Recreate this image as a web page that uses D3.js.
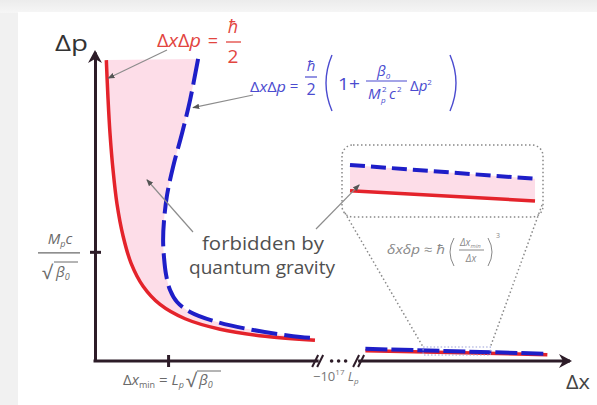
<!DOCTYPE html>
<html>
<head>
<meta charset="utf-8">
<script src="https://cdn.jsdelivr.net/npm/d3@7"></script>
<style>
  body { margin: 0; background: #f1f1f1; }
  text { font-family: "Open Sans", sans-serif; }
</style>
</head>
<body>
<div class="chart_container"></div>
<script>
// Δx in units of Δx_min, Δp in units of M_p c / √β0
const xTicks = [1];
const yTicks = [1];
const xBreak = [3.04, 3.6];

const redNear = [[0.155, 2.756], [0.178, 2.406], [0.205, 2.088], [0.247, 1.749], [0.301, 1.438],
  [0.384, 1.145], [0.493, 0.897], [0.658, 0.685], [0.89, 0.518], [1.233, 0.387],
  [1.712, 0.291], [2.329, 0.226], [3.01, 0.19]];
const blueNear = [[1.411, 2.766], [1.301, 2.39], [1.192, 2.088], [1.068, 1.777], [0.986, 1.52],
  [0.945, 1.291], [0.932, 1.108], [0.945, 0.943], [0.973, 0.788], [1.027, 0.65],
  [1.123, 0.54], [1.301, 0.449], [1.671, 0.357], [2.164, 0.284], [2.808, 0.22], [3.014, 0.211]];
const redFar = [[3.70, 0.095], [6.19, 0.058]];
const blueFar = [[3.70, 0.112], [6.19, 0.066]];
const zoomWindow = [[4.49, 0.055], [5.41, 0.128]];

// magnified view, inset units 0..1
const insetRed = [[0, 0.32], [1, 0.15]];
const insetBlue = [[0, 0.75], [1, 0.52]];

// where the annotation arrows point
const redTip = [0.18, 2.59];
const blueTip = [1.34, 2.32];
const forbiddenTip = [0.71, 1.66];
const insetTip = [0.05, 0.42];

const axisColor = '#2d1c28';
const red = '#e4232b';
const blue = '#1e1ec8';
const pink = '#fddde8';

const x = d3.scaleLinear().domain([0, 6.5]).range([95, 570]);
const y = d3.scaleLinear().domain([0, 2.83]).range([361, 52]);
const ix = d3.scaleLinear().domain([0, 1]).range([350, 535]);
const iy = d3.scaleLinear().domain([0, 1]).range([210, 150]);

const svg = d3.select('.chart_container').append('svg')
  .attr('width', 597).attr('height', 405);

const defs = svg.append('defs');
const grad = defs.append('linearGradient').attr('id', 'topfade')
  .attr('x1', 0).attr('y1', 0).attr('x2', 0).attr('y2', 1);
grad.append('stop').attr('offset', 0).attr('stop-color', '#ececec');
grad.append('stop').attr('offset', 1).attr('stop-color', '#f6f6f6');
defs.append('marker').attr('id', 'tip')
  .attr('viewBox', '0 0 10 10').attr('refX', 9).attr('refY', 5)
  .attr('markerWidth', 7).attr('markerHeight', 7).attr('markerUnits', 'userSpaceOnUse')
  .attr('orient', 'auto')
  .append('path').attr('d', 'M0,1 L10,5 L0,9 Z').attr('fill', '#555');

svg.append('rect').attr('width', 597).attr('height', 13).attr('fill', 'url(#topfade)');
svg.append('rect').attr('x', 18).attr('y', 12).attr('width', 579).attr('height', 393).attr('fill', '#fff');

const line = d3.line().x(d => x(d[0])).y(d => y(d[1])).curve(d3.curveCatmullRom.alpha(0.5));
const iline = d3.line().x(d => ix(d[0])).y(d => iy(d[1]));

// forbidden region between the two curves
const redPath = line(redNear);
const blueBack = line(blueNear.slice().reverse());
svg.append('path').attr('d', redPath + 'L' + blueBack.slice(1) + 'Z').attr('fill', pink);

// axes
const yAxis = svg.append('g').attr('transform', `translate(${x(0)},0)`)
  .call(d3.axisLeft(y).tickValues(yTicks).tickFormat('').tickSizeInner(5).tickSizeOuter(0));
yAxis.select('.domain').attr('stroke', axisColor).attr('stroke-width', 3);
yAxis.selectAll('.tick line').attr('x1', 6).attr('stroke', axisColor).attr('stroke-width', 3);

const xAxis = svg.append('g').attr('transform', `translate(0,${y(0)})`)
  .call(d3.axisBottom(x).tickValues(xTicks).tickFormat('').tickSizeInner(6).tickSizeOuter(0));
xAxis.select('.domain').remove();
xAxis.selectAll('.tick line').attr('y1', -6).attr('stroke', axisColor).attr('stroke-width', 3);

const axisLine = d3.line().x(d => x(d)).y(y(0));
svg.append('path').attr('d', axisLine([0, xBreak[0]]))
  .attr('stroke', axisColor).attr('stroke-width', 3).attr('stroke-linecap', 'square');
svg.append('path').attr('d', axisLine([xBreak[1], 6.5]))
  .attr('stroke', axisColor).attr('stroke-width', 3);

xBreak.forEach(b => {
  [-5, 0].forEach(o => {
    svg.append('line')
      .attr('x1', x(b) + o).attr('y1', y(0) + 6).attr('x2', x(b) + o + 6).attr('y2', y(0) - 6)
      .attr('stroke', axisColor).attr('stroke-width', 2);
  });
});
const mid = (x(xBreak[0]) + x(xBreak[1])) / 2 + 1;
[-7, 0, 7].forEach(o => {
  svg.append('circle').attr('cx', mid + o).attr('cy', y(0)).attr('r', 1.8).attr('fill', axisColor);
});

// arrow heads
const yt = [x(0), y(2.83) - 2];
svg.append('path')
  .attr('d', `M${yt[0]},${yt[1]} L${yt[0] + 7},${yt[1] + 13} L${yt[0]},${yt[1] + 9} L${yt[0] - 7},${yt[1] + 13} Z`)
  .attr('fill', axisColor);
const xt = [x(6.5) + 2, y(0)];
svg.append('path')
  .attr('d', `M${xt[0]},${xt[1]} L${xt[0] - 13},${xt[1] - 7} L${xt[0] - 9},${xt[1]} L${xt[0] - 13},${xt[1] + 7} Z`)
  .attr('fill', axisColor);

// curves
svg.append('path').attr('d', redPath).attr('fill', 'none')
  .attr('stroke', red).attr('stroke-width', 3.5);
svg.append('path').attr('d', line(blueNear)).attr('fill', 'none')
  .attr('stroke', blue).attr('stroke-width', 4).attr('stroke-dasharray', '26,7');

const farLine = d3.line().x(d => x(d[0])).y(d => y(d[1]));
svg.append('path').attr('d', farLine(redFar)).attr('fill', 'none')
  .attr('stroke', red).attr('stroke-width', 3.5);
svg.append('path').attr('d', farLine(blueFar)).attr('fill', 'none')
  .attr('stroke', blue).attr('stroke-width', 4).attr('stroke-dasharray', '22,4');

// zoom window and magnifier
svg.append('rect')
  .attr('x', x(zoomWindow[0][0])).attr('y', y(zoomWindow[1][1]))
  .attr('width', x(zoomWindow[1][0]) - x(zoomWindow[0][0]))
  .attr('height', y(zoomWindow[0][1]) - y(zoomWindow[1][1]))
  .attr('fill', 'none').attr('stroke', '#9aa0d8').attr('stroke-width', 1.2).attr('stroke-dasharray', '1.5,2');

const inset = svg.append('g');
const insetArea = iline(insetBlue) + 'L' + iline(insetRed.slice().reverse()).slice(1) + 'Z';
inset.append('path').attr('d', insetArea).attr('fill', pink);
inset.append('path').attr('d', iline(insetRed)).attr('stroke', red).attr('stroke-width', 3.5);
inset.append('path').attr('d', iline(insetBlue)).attr('stroke', blue).attr('stroke-width', 4)
  .attr('stroke-dasharray', '15,6');
inset.append('rect').attr('x', 342).attr('y', 145).attr('width', 201).attr('height', 72).attr('rx', 11)
  .attr('fill', 'none').attr('stroke', '#888').attr('stroke-width', 1.5).attr('stroke-dasharray', '1.5,2.5');

const dotted = (x1, y1, x2, y2) => svg.append('line')
  .attr('x1', x1).attr('y1', y1).attr('x2', x2).attr('y2', y2)
  .attr('stroke', '#8a8a8a').attr('stroke-width', 1.5).attr('stroke-dasharray', '1.5,2.5');
dotted(345, 213, x(zoomWindow[0][0]), y(zoomWindow[1][1]));
dotted(542, 205, x(zoomWindow[1][0]), y(zoomWindow[1][1]));

// pointer lines
const pointer = (x1, y1, x2, y2) => svg.append('line')
  .attr('x1', x1).attr('y1', y1).attr('x2', x2).attr('y2', y2)
  .attr('stroke', '#8c8c8c').attr('stroke-width', 1.2).attr('marker-end', 'url(#tip)');
pointer(167, 50, x(redTip[0]), y(redTip[1]));
pointer(253, 95, x(blueTip[0]), y(blueTip[1]));
pointer(193, 232, x(forbiddenTip[0]), y(forbiddenTip[1]));
pointer(316, 229, ix(insetTip[0]), iy(insetTip[1]));

// helper for single text pieces
const txt = (px, py, s, size, color, opts = {}) => {
  const t = svg.append('text').attr('x', px).attr('y', py).attr('font-size', size)
    .attr('fill', color).text(s);
  if (opts.italic) t.attr('font-style', 'italic');
  if (opts.anchor) t.attr('text-anchor', opts.anchor);
  if (opts.len) t.attr('textLength', opts.len).attr('lengthAdjust', 'spacingAndGlyphs');
  return t;
};
const rule = (x1, x2, yy, color, w = 1.2) => svg.append('line')
  .attr('x1', x1).attr('x2', x2).attr('y1', yy).attr('y2', yy)
  .attr('stroke', color).attr('stroke-width', w);

// axis labels
txt(55, 51, 'Δp', 22, '#333', { len: 33 });
txt(566, 389, 'Δx', 20, '#444', { len: 24 });

txt(263, 250, 'forbidden by', 19, '#505050', { anchor: 'middle', len: 122 });
txt(262, 274, 'quantum gravity', 19, '#505050', { anchor: 'middle', len: 146 });

// tick labels
const gray = '#6a6a6a';
const xl = svg.append('text').attr('x', x(xTicks[0]) - 45).attr('y', 385)
  .attr('font-size', 15).attr('fill', gray);
xl.append('tspan').text('Δ');
xl.append('tspan').attr('font-style', 'italic').text('x');
xl.append('tspan').attr('font-size', 9).attr('dy', 3).text('min');
xl.append('tspan').attr('dy', -3).text(' = ');
xl.append('tspan').attr('font-style', 'italic').text('L');
xl.append('tspan').attr('font-size', 9).attr('dy', 3).attr('font-style', 'italic').text('p');
txt(186, 387, '√', 19, gray);
const xb = txt(199, 385, '', 15, gray, { italic: true });
xb.append('tspan').text('β');
xb.append('tspan').attr('font-size', 9).attr('dy', 3).text('0');
rule(197, 221, 371, gray, 1);

const yl1 = txt(60, 244, '', 15, gray, { italic: true, anchor: 'middle' });
yl1.append('tspan').text('M');
yl1.append('tspan').attr('font-size', 9).attr('dy', 3).text('p');
yl1.append('tspan').attr('dy', -3).text('c');
rule(38, 80, y(yTicks[0]) + 1, gray, 1.3);
txt(42, 279, '√', 19, gray);
const yb = txt(56, 277, '', 15, gray, { italic: true });
yb.append('tspan').text('β');
yb.append('tspan').attr('font-size', 9).attr('dy', 3).text('0');
rule(54, 78, 262, gray, 1);

// -10^17 L_p
const far = txt(313, 381, '', 13, '#777');
far.append('tspan').text('−10');
far.append('tspan').attr('font-size', 8).attr('dy', -6).text('17');
far.append('tspan').attr('dy', 6).attr('font-style', 'italic').text(' L');
far.append('tspan').attr('font-size', 8).attr('dy', 3).attr('font-style', 'italic').text('p');

// red formula
const rc = '#e2453f';
const rf = txt(157, 47, '', 18, rc, { len: 44 });
rf.append('tspan').text('Δ');
rf.append('tspan').attr('font-style', 'italic').text('x');
rf.append('tspan').text('Δ');
rf.append('tspan').attr('font-style', 'italic').text('p');
txt(213, 47, '=', 18, rc, { anchor: 'middle' });
txt(233, 33, 'ħ', 18, rc, { anchor: 'middle', italic: true });
rule(226, 241, 42, rc, 1.3);
txt(233, 63, '2', 19, rc, { anchor: 'middle' });

// blue formula
const bc = '#4b4bcf';
const bf = txt(250, 92, '', 15, bc, { len: 36 });
bf.append('tspan').text('Δ');
bf.append('tspan').attr('font-style', 'italic').text('x');
bf.append('tspan').text('Δ');
bf.append('tspan').attr('font-style', 'italic').text('p');
txt(294, 91, '=', 15, bc, { anchor: 'middle' });
txt(311, 71, 'ħ', 15, bc, { anchor: 'middle', italic: true });
rule(305, 317, 77, bc);
txt(311, 95, '2', 16, bc, { anchor: 'middle' });
svg.append('path').attr('d', 'M332,55 Q320,83 332,111').attr('fill', 'none').attr('stroke', bc).attr('stroke-width', 1.4);
svg.append('path').attr('d', 'M450,55 Q462,83 450,111').attr('fill', 'none').attr('stroke', bc).attr('stroke-width', 1.4);
txt(338, 90, '1+', 16, bc, { len: 22 });
const bn = txt(377, 76, '', 15, bc, { italic: true });
bn.append('tspan').text('β');
bn.append('tspan').attr('font-size', 8).attr('dy', 3).text('0');
rule(366, 407, 81, bc);
txt(368, 99, 'M', 15, bc, { italic: true });
txt(382, 92, '2', 8, bc);
txt(381, 103, 'p', 8, bc, { italic: true });
txt(389, 99, 'c', 15, bc, { italic: true });
txt(397, 92, '2', 8, bc);
const bp = txt(410, 91, '', 15, bc);
bp.append('tspan').text('Δ');
bp.append('tspan').attr('font-style', 'italic').text('p');
bp.append('tspan').attr('font-size', 8).attr('dy', -6).text('2');

// inset formula
const ic = '#888';
txt(387, 254, 'δxδp ≈ ħ', 12, ic, { italic: true, len: 58 });
svg.append('path').attr('d', 'M454,238 Q446,252 454,266').attr('fill', 'none').attr('stroke', ic).attr('stroke-width', 1);
svg.append('path').attr('d', 'M488,238 Q496,252 488,266').attr('fill', 'none').attr('stroke', ic).attr('stroke-width', 1);
const inn = txt(460, 246, '', 10, ic, { italic: true });
inn.append('tspan').text('Δx');
inn.append('tspan').attr('font-size', 6).attr('dy', 2).text('min');
rule(459, 484, 250, ic, 1);
txt(471, 262, 'Δx', 10, ic, { anchor: 'middle', italic: true });
txt(496, 238, '3', 7, ic);
</script>
</body>
</html>
